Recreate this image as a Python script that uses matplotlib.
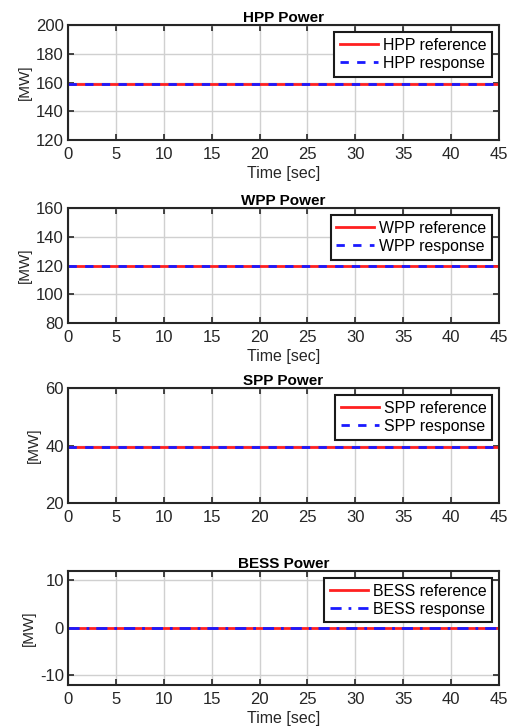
import numpy as np
import matplotlib.pyplot as plt

plt.rcParams['font.family'] = ['Liberation Sans', 'DejaVu Sans']
plt.rcParams['axes.unicode_minus'] = False

# time axis and setpoints for each plant (MW)
t = [0, 45]
hpp_ref = [159.3, 159.3]
hpp_resp = [159.3, 159.3]
wpp_ref = [120, 120]
wpp_resp = [120, 120]
spp_ref = [39.5, 39.5]
spp_resp = [39.5, 39.5]
bess_ref = [0, 0]
bess_resp = [0, 0]

names = ["HPP", "WPP", "SPP", "BESS"]
refs = [hpp_ref, wpp_ref, spp_ref, bess_ref]
resps = [hpp_resp, wpp_resp, spp_resp, bess_resp]
ylims = [(120, 200), (80, 160), (20, 60), (-12, 12)]
yticks = [[120, 140, 160, 180, 200], [80, 100, 120, 140, 160], [20, 40, 60], [-10, 0, 10]]
resp_style = [(0, (3, 3)), (0, (3, 3)), (0, (3, 3)), (0, (4, 2.5, 1, 2.5))]
show_xlabel = [True, True, False, True]

# axes rectangles in figure fractions
rects = [
    [0.1326, 0.8074, 0.840, 0.158],
    [0.1326, 0.5557, 0.840, 0.158],
    [0.1326, 0.3081, 0.840, 0.158],
    [0.1326, 0.0578, 0.840, 0.157],
]

fig = plt.figure(figsize=(5.13, 7.27), dpi=100)

for i in range(4):
    ax = fig.add_axes(rects[i])
    ax.plot(t, refs[i], color="#ff2020", lw=2, label=names[i] + " reference")
    ax.plot(t, resps[i], color="#1a1aff", lw=2, linestyle=resp_style[i],
            label=names[i] + " response")
    ax.set_xlim(0, 45)
    ax.set_ylim(*ylims[i])
    ax.set_xticks(range(0, 50, 5))
    ax.set_yticks(yticks[i])
    ax.grid(True, color="#d0d0d0", lw=1)
    ax.set_axisbelow(True)
    ax.tick_params(direction="in", top=True, right=True, labelsize=12,
                   colors="#262626", length=4, width=1.2)
    ax.tick_params(axis="x", pad=5)
    ax.tick_params(axis="y", pad=3)
    for s in ax.spines.values():
        s.set_linewidth(1.5)
        s.set_color("#262626")
    ax.set_title(names[i] + " Power", fontsize=11, fontweight="bold", pad=2)
    ax.set_ylabel("[MW]", fontsize=11, color="#262626", labelpad=3)
    if show_xlabel[i]:
        ax.set_xlabel("Time [sec]", fontsize=11.5, color="#262626", labelpad=3)
    leg = ax.legend(loc="upper right", fontsize=11.4, fancybox=False,
                    framealpha=1, edgecolor="#1a1a1a", borderpad=0.35,
                    handlelength=2.4, handletextpad=0.3, labelspacing=0.2,
                    borderaxespad=0.45)
    leg.get_frame().set_linewidth(1.5)

fig.savefig("out.png", dpi=100)
